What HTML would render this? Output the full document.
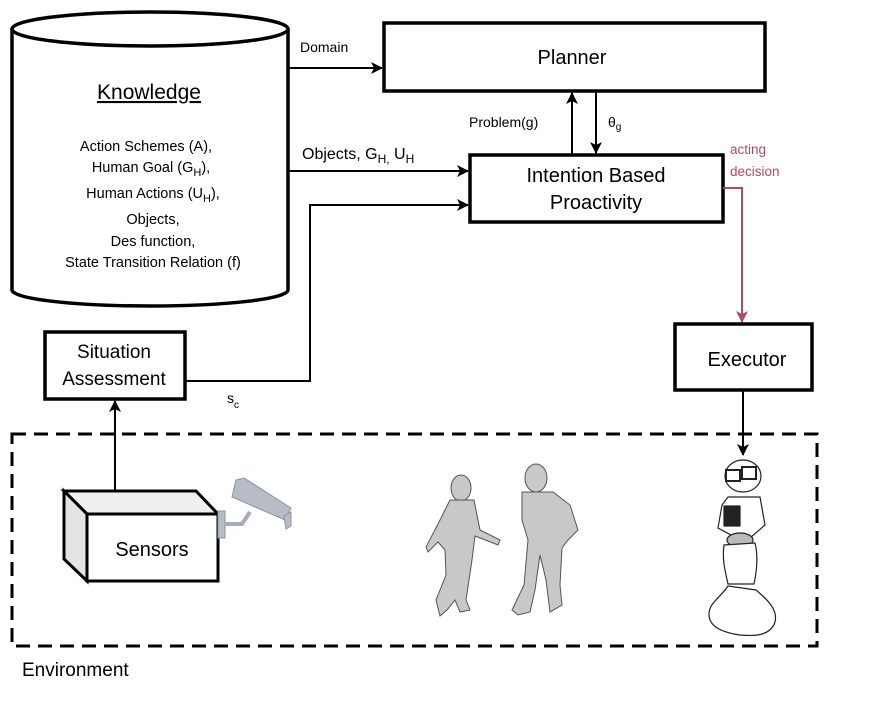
<!DOCTYPE html>
<html><head><meta charset="utf-8"><style>
html,body{margin:0;padding:0;background:#fff;}
svg{display:block;font-family:"Liberation Sans",Arial,sans-serif;}
</style></head><body>
<svg width="883" height="702" viewBox="0 0 883 702" xmlns="http://www.w3.org/2000/svg">
<defs>
<marker id="ah" markerWidth="12" markerHeight="12" refX="11" refY="6" orient="auto" markerUnits="userSpaceOnUse"><path d="M0,0 L12,6 L0,12 L3,6 z" fill="#000"/></marker>
<marker id="ahr" markerWidth="12" markerHeight="12" refX="11" refY="6" orient="auto" markerUnits="userSpaceOnUse"><path d="M0,0 L12,6 L0,12 L3,6 z" fill="#b24a5e"/></marker>
</defs>
<!-- cylinder -->
<path d="M12,29 L12,290 A138,16 0 0 0 288,290 L288,29" fill="#fff" stroke="#000" stroke-width="3.5"/>
<ellipse cx="150" cy="29" rx="138" ry="17" fill="#fff" stroke="#000" stroke-width="3.5"/>
<text x="149" y="99" font-size="21" text-anchor="middle" text-decoration="underline">Knowledge</text>
<g font-size="14.5" text-anchor="middle">
<text x="146" y="151">Action Schemes (A),</text>
<text x="151" y="172">Human Goal (G<tspan font-size="11" dy="4">H</tspan><tspan dy="-4">),</tspan></text>
<text x="153" y="198">Human Actions (U<tspan font-size="11" dy="4">H</tspan><tspan dy="-4">),</tspan></text>
<text x="153" y="224">Objects,</text>
<text x="153" y="246">Des function,</text>
<text x="153" y="267">State Transition Relation (f)</text>
</g>
<!-- planner -->
<rect x="384" y="23" width="381" height="68" fill="#fff" stroke="#000" stroke-width="3.5"/>
<text x="572" y="64" font-size="20" text-anchor="middle">Planner</text>
<!-- intention -->
<rect x="470" y="155" width="253" height="67" fill="#fff" stroke="#000" stroke-width="3.5"/>
<text x="596" y="182" font-size="20" text-anchor="middle">Intention Based</text>
<text x="596" y="209" font-size="20" text-anchor="middle">Proactivity</text>
<!-- executor -->
<rect x="675" y="324" width="137" height="66" fill="#fff" stroke="#000" stroke-width="3.5"/>
<text x="747" y="366" font-size="20" text-anchor="middle">Executor</text>
<!-- situation -->
<rect x="45" y="332" width="140" height="67" fill="#fff" stroke="#000" stroke-width="3.5"/>
<text x="114" y="358" font-size="19" text-anchor="middle">Situation</text>
<text x="114" y="385" font-size="19" text-anchor="middle">Assessment</text>
<!-- arrows -->
<g stroke="#000" stroke-width="2" fill="none">
<line x1="288" y1="68" x2="382" y2="68" marker-end="url(#ah)"/>
<line x1="288" y1="171" x2="468" y2="171" marker-end="url(#ah)"/>
<polyline points="185,381 310,381 310,205 468,205" marker-end="url(#ah)"/>
<line x1="572" y1="155" x2="572" y2="93" marker-end="url(#ah)"/>
<line x1="596" y1="91" x2="596" y2="153" marker-end="url(#ah)"/>
<line x1="743" y1="390" x2="743" y2="455" marker-end="url(#ah)"/>
<line x1="115" y1="491" x2="115" y2="401" marker-end="url(#ah)"/>
</g>
<polyline points="723,188 742,188 742,322" stroke="#b24a5e" stroke-width="2" fill="none" marker-end="url(#ahr)"/>
<text x="300" y="52" font-size="14">Domain</text>
<text x="302" y="159" font-size="16">Objects, G<tspan font-size="12" dy="4">H,</tspan><tspan dy="-4"> U</tspan><tspan font-size="12" dy="4">H</tspan></text>
<text x="469" y="127" font-size="14">Problem(g)</text>
<text x="608" y="127" font-size="14">θ<tspan font-size="10" dy="3">g</tspan></text>
<text x="730" y="154" font-size="13.5" fill="#b24a5e">acting</text>
<text x="730" y="176" font-size="13.5" fill="#b24a5e">decision</text>
<text x="227" y="403" font-size="14">s<tspan font-size="10" dy="5">c</tspan></text>
<!-- environment -->
<rect x="12" y="434" width="805" height="212" fill="none" stroke="#000" stroke-width="3" stroke-dasharray="14,8"/>
<text x="22" y="676" font-size="19">Environment</text>
<!-- sensors -->
<polygon points="64,491 196,491 218,514 87,514" fill="#efefef" stroke="#000" stroke-width="3"/>
<polygon points="64,491 87,514 87,581 64,559" fill="#e4e4e4" stroke="#000" stroke-width="3"/>
<rect x="87" y="514" width="131" height="67" fill="#fff" stroke="#000" stroke-width="3"/>
<text x="152" y="556" font-size="20" text-anchor="middle">Sensors</text>
<!-- camera -->
<g fill="#b8bcc6" stroke="#8a92a2" stroke-width="1">
<rect x="218" y="511" width="7" height="27"/>
<polyline points="225,524 242,524 250,512" fill="none" stroke="#a6acb8" stroke-width="4"/>
<polygon points="236,480 244,478 291,508 285,520 232,497"/>
<polygon points="284,516 291,512 291,526 286,529"/>
</g>
<!-- humans (simplified) -->
<g fill="#c8c8c8" stroke="#555" stroke-width="1">
<ellipse cx="461" cy="488" rx="10" ry="13"/>
<path d="M450,500 L474,500 L480,530 L500,540 L498,545 L475,536 L472,560 L466,600 L470,610 L460,612 L455,600 L447,610 L440,616 L436,600 L446,575 L445,550 L438,542 L428,552 L426,547 L440,520 Z"/>
<ellipse cx="536" cy="478" rx="11" ry="14"/>
<path d="M522,492 L553,492 L570,505 L578,530 L568,540 L562,548 L560,585 L562,605 L550,612 L546,580 L540,555 L535,590 L530,612 L518,615 L512,610 L524,585 L528,540 L522,520 Z"/>
</g>
<!-- robot -->
<g fill="#fff" stroke="#222" stroke-width="1.2">
<ellipse cx="743" cy="476" rx="18" ry="16"/>
<rect x="726" y="470" width="14" height="11" fill="none" stroke-width="2"/>
<rect x="742" y="467" width="14" height="12" fill="none" stroke-width="2"/>
<path d="M728,497 L760,497 L765,525 L750,538 L733,536 L718,528 L722,505 Z"/>
<rect x="724" y="506" width="16" height="20" fill="#222"/>
<ellipse cx="740" cy="540" rx="13" ry="7" fill="#bbb"/>
<path d="M724,545 C722,560 725,570 728,584 L754,584 C757,570 758,555 755,543 Z"/>
<path d="M728,586 C720,598 709,603 709,614 C709,626 720,632 740,635 C752,636 770,637 775,622 C778,610 768,600 756,590 Z"/>
</g>
</svg>
</body></html>
